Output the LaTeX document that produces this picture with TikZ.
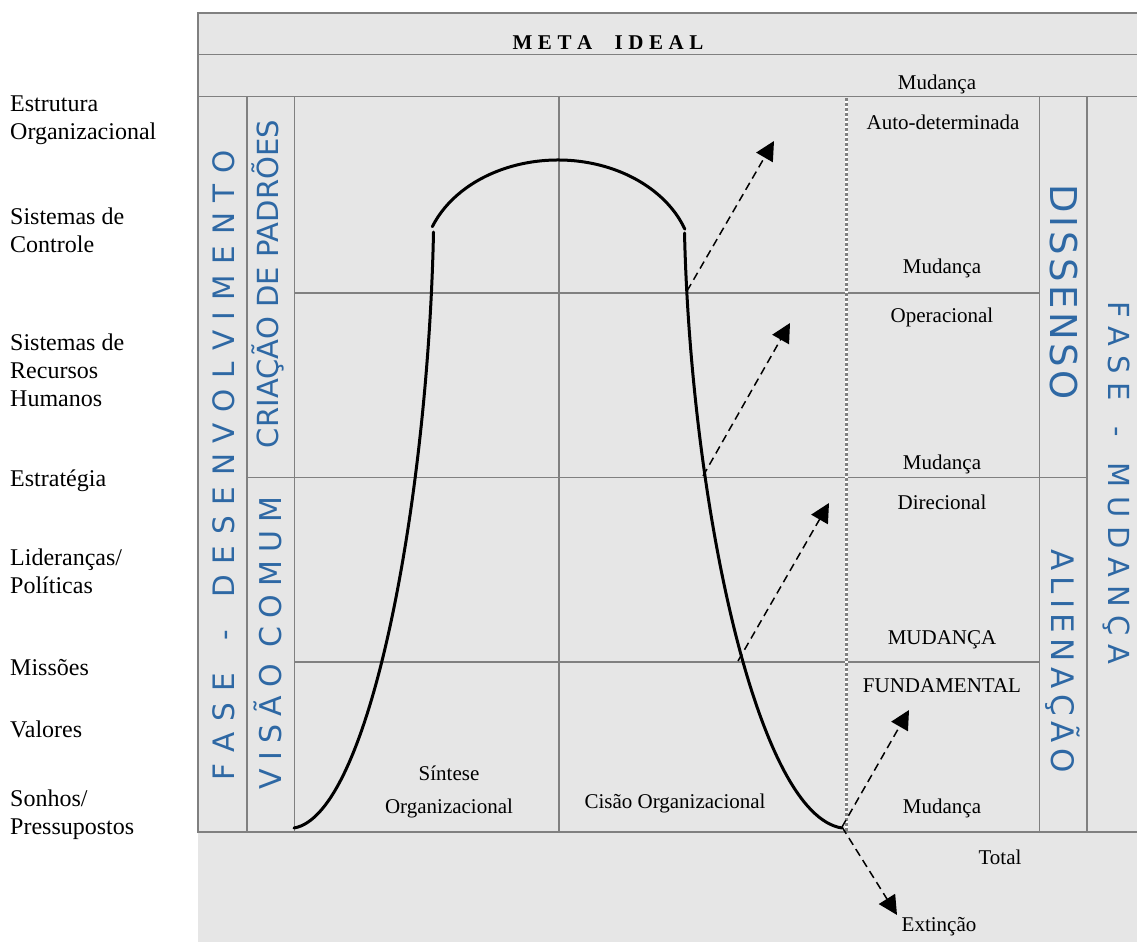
\documentclass[tikz,border=0pt]{standalone}
\usepackage{fontspec}
\setmainfont{Liberation Serif}
\newfontfamily\phasefont{DejaVu Sans}
\usetikzlibrary{arrows.meta}
\definecolor{panel}{RGB}{230,230,230}
\definecolor{rule}{RGB}{128,128,128}
\definecolor{phase}{RGB}{46,104,164}
% letters spread over a fixed width with \hfill between them
\newcommand{\spreadbox}[2]{\makebox[#1]{#2}}

\begin{document}
\begin{tikzpicture}[x=1pt,y=-1pt,
  grid/.style={draw=rule, line width=1.8pt},
  cell/.style={font=\fontsize{21}{25}\selectfont, inner sep=0pt},
  level/.style={font=\fontsize{24}{27.8}\selectfont, align=left, anchor=west, inner sep=0pt},
  phasetext/.style={text=phase, inner sep=0pt, anchor=base},
  curve/.style={line width=3pt, line cap=round},
  jump/.style={line width=1.5pt, dash pattern=on 8pt off 5pt, -{Triangle[length=19pt,width=19pt]}}
]
\useasboundingbox (0,0) rectangle (1137,942);

% panel
\fill[panel] (198,13) rectangle (1137,942);

% table rules
\draw[grid] (1137,13) -- (198,13) -- (198,832) -- (1137,832);
\draw[grid] (198,54.5) -- (1137,54.5);
\draw[grid] (198,96.5) -- (1137,96.5);
\draw[grid] (247,96.5) -- (247,832);
\draw[grid] (294.5,96.5) -- (294.5,832);
\draw[grid] (559,96.5) -- (559,832);
\draw[grid] (1039.5,96.5) -- (1039.5,832);
\draw[grid] (1087,96.5) -- (1087,832);
\draw[grid] (294.5,293) -- (1039.5,293);
\draw[grid] (247,477.5) -- (1087,477.5);
\draw[grid] (294.5,662) -- (1039.5,662);
% dotted divider
\draw[white, line width=3pt] (846,97.5) -- (846,831);
\draw[rule, line width=3pt, dash pattern=on 3pt off 2pt] (846,97.5) -- (846,831);

% header
\node[inner sep=0pt, font=\bfseries\fontsize{21}{24}\selectfont] (meta) at (608,43)
  {\makebox[191pt][s]{M E T A \ \ \ I D E A L}};

% level labels
\node[level] (l1) at (10,120) {Estrutura\\Organizacional};
\node[level] (l2) at (10,230) {Sistemas de\\Controle};
\node[level] (l3) at (10,370) {Sistemas de\\Recursos\\Humanos};
\node[level] (l4) at (10,481) {Estratégia};
\node[level] (l5) at (10,571) {Lideranças/\\Políticas};
\node[level] (l6) at (10,668) {Missões};
\node[level] (l7) at (10,729) {Valores};
\node[level] (l8) at (10,815) {Sonhos/\\Pressupostos};

% phase columns (placed by their baselines)
\node[phasetext, rotate=90, font=\phasefont\fontsize{29.5}{31}\selectfont] (fdes) at (234.5,465)
  {\spreadbox{630pt}{F\hfill A\hfill S\hfill E\hfill\hfill\hfill -\hfill\hfill\hfill D\hfill E\hfill S\hfill E\hfill N\hfill V\hfill O\hfill L\hfill V\hfill I\hfill M\hfill E\hfill N\hfill T\hfill O}};
\node[phasetext, rotate=90, font=\phasefont\fontsize{28.6}{30}\selectfont] (cria) at (278.5,284)
  {\resizebox{328pt}{!}{CRIAÇÃO DE PADRÕES}};
\node[phasetext, rotate=90, font=\phasefont\fontsize{30}{32}\selectfont] (visao) at (281,643)
  {\spreadbox{293pt}{V\hfill I\hfill S\hfill Ã\hfill O\hfill\hfill C\hfill O\hfill M\hfill U\hfill M}};
\node[phasetext, rotate=-90, font=\phasefont\fontsize{37}{39}\selectfont] (diss) at (1050,292)
  {\spreadbox{215pt}{D\hfill I\hfill S\hfill S\hfill E\hfill N\hfill S\hfill O}};
\node[phasetext, rotate=-90, font=\phasefont\fontsize{31}{33}\selectfont] (alien) at (1051,661)
  {\spreadbox{223pt}{A\hfill L\hfill I\hfill E\hfill N\hfill A\hfill Ç\hfill Ã\hfill O}};
\node[phasetext, rotate=-90, font=\phasefont\fontsize{29}{31}\selectfont] (fmud) at (1108,483)
  {\spreadbox{363pt}{F\hfill A\hfill S\hfill E\hfill\hfill\hfill -\hfill\hfill\hfill M\hfill U\hfill D\hfill A\hfill N\hfill Ç\hfill A}};

% change labels
\node[cell] (m0) at (937,84) {Mudança};
\node[cell] (t1) at (943,122) {Auto-determinada};
\node[cell] (m1) at (942,268) {Mudança};
\node[cell] (t2) at (942,317) {Operacional};
\node[cell] (m2) at (942,464) {Mudança};
\node[cell] (t3) at (942,502) {Direcional};
\node[cell] (m3) at (942,640) {MUDANÇA};
\node[cell] (t4) at (942,686) {FUNDAMENTAL};
\node[cell] (m4) at (942,808) {Mudança};
\node[cell] (tot) at (1000,857) {Total};
\node[cell] (ext) at (939,927) {Extinção};
\node[cell] (sint1) at (449,773) {Síntese};
\node[cell] (sint2) at (449,808) {Organizacional};
\node[cell] (cisao) at (675,803) {Cisão Organizacional};

% life curve: rise, plateau, decline
\draw[curve] (294,828) .. controls (370,815) and (428,500) .. (433.5,232);
\draw[curve] (432.3,226.7) arc[start angle=201.4, end angle=340, x radius=135, y radius=105];
\draw[curve] (684.5,233) .. controls (690.8,500) and (756.3,815) .. (842,828);

% change arrows
\coordinate (s1) at (687,291);  \coordinate (e1) at (774,141);
\coordinate (s2) at (703,476);  \coordinate (e2) at (790,323);
\coordinate (s3) at (738,661);  \coordinate (e3) at (829,503);
\coordinate (s4) at (842,827);  \coordinate (e4) at (909,710);
\coordinate (e5) at (897,915);
\draw[jump] (s1) -- (e1);
\draw[jump] (s2) -- (e2);
\draw[jump] (s3) -- (e3);
\draw[jump] (s4) -- (e4);
\draw[jump] (s4) -- (e5);
\end{tikzpicture}
\end{document}
